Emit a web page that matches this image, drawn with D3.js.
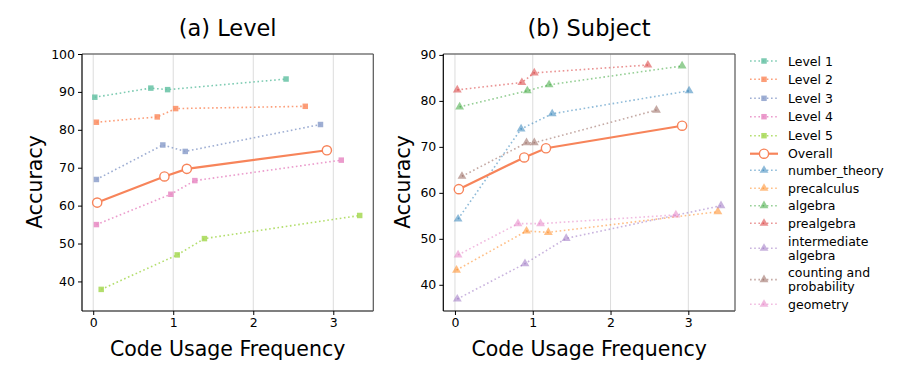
<!DOCTYPE html>
<html>
<head>
<meta charset="utf-8">
<script src="https://cdn.jsdelivr.net/npm/d3@7"></script>
<style>
  body { margin: 0; background: #fff; }
  text { font-family: "DejaVu Sans", sans-serif; }
</style>
</head>
<body>
<svg id="chart" width="913" height="371"></svg>
<script>
// data
const overallX = [0.05, 0.89, 1.17, 2.92];
const overallY = [60.8, 67.7, 69.7, 74.6];

const levelNames = ['Level 1', 'Level 2', 'Level 3', 'Level 4', 'Level 5'];
const levelX = [
  [0.02, 0.72, 0.93, 2.41],
  [0.04, 0.80, 1.03, 2.65],
  [0.04, 0.87, 1.15, 2.84],
  [0.04, 0.97, 1.27, 3.10],
  [0.10, 1.05, 1.39, 3.33]
];
const levelY = [
  [88.6, 91.0, 90.6, 93.4],
  [82.0, 83.4, 85.6, 86.2],
  [66.9, 76.0, 74.3, 81.4],
  [55.0, 63.0, 66.6, 72.0],
  [37.9, 47.0, 51.3, 57.4]
];
const levelColors = ['#66c2a5', '#fc8d62', '#8da0cb', '#e78ac3', '#a6d854'];

const subjectNames = ['number_theory', 'precalculus', 'algebra', 'prealgebra',
  'intermediate algebra', 'counting and probability', 'geometry'];
const subjectX = [
  [0.04, 0.85, 1.25, 3.01],
  [0.02, 0.92, 1.20, 3.38],
  [0.06, 0.93, 1.21, 2.92],
  [0.03, 0.86, 1.02, 2.48],
  [0.03, 0.90, 1.43, 3.42],
  [0.09, 0.92, 1.02, 2.59],
  [0.04, 0.81, 1.10, 2.84]
];
const subjectY = [
  [54.3, 73.9, 77.2, 82.2],
  [43.2, 51.7, 51.4, 55.9],
  [78.7, 82.2, 83.5, 87.6],
  [82.4, 84.0, 86.1, 87.8],
  [36.9, 44.6, 50.1, 57.2],
  [63.6, 70.9, 70.9, 78.0],
  [46.5, 53.3, 53.3, 55.2]
];
const subjectColors = ['#1f77b4', '#ff7f0e', '#2ca02c', '#d62728', '#9467bd', '#8c564b', '#e377c2'];

const xTicks = [0, 1, 2, 3];
const yTicksA = [40, 50, 60, 70, 80, 90, 100];
const yTicksB = [40, 50, 60, 70, 80, 90];
const overallColor = '#f7845a';

const svg = d3.select('#chart');

function panel(opts) {
  const x = d3.scaleLinear().domain(opts.xDomain).range([opts.left, opts.right]);
  const y = d3.scaleLinear().domain(opts.yDomain).range([311, 54]);
  const g = svg.append('g');

  // vertical grid
  g.selectAll('.grid').data(xTicks).enter().append('line')
    .attr('x1', d => x(d)).attr('x2', d => x(d))
    .attr('y1', 54).attr('y2', 311)
    .attr('stroke', '#dcdcdc').attr('stroke-width', 1);

  const xAxis = d3.axisBottom(x).tickValues(xTicks).tickFormat(d3.format('d')).tickSize(4).tickPadding(3);
  const yAxis = d3.axisLeft(y).tickValues(opts.yTicks).tickFormat(d3.format('d')).tickSize(4).tickPadding(3);
  const xg = g.append('g').attr('transform', 'translate(0,311)').call(xAxis);
  const yg = g.append('g').attr('transform', `translate(${opts.left},0)`).call(yAxis);
  [xg, yg].forEach(a => {
    a.select('.domain').remove();
    a.selectAll('text').style('font-size', '12.5px').attr('fill', '#000');
    a.selectAll('line').attr('stroke', '#000');
  });

  // frame
  g.append('line').attr('x1', opts.left).attr('x2', opts.right).attr('y1', 54).attr('y2', 54)
    .attr('stroke', '#777').attr('stroke-width', 1.6);
  g.append('line').attr('x1', opts.left).attr('x2', opts.right).attr('y1', 311).attr('y2', 311)
    .attr('stroke', '#000').attr('stroke-width', 1.2);
  g.append('line').attr('x1', opts.left).attr('x2', opts.left).attr('y1', 54).attr('y2', 311)
    .attr('stroke', '#000').attr('stroke-width', 1.2);
  g.append('line').attr('x1', opts.right).attr('x2', opts.right).attr('y1', 54).attr('y2', 311)
    .attr('stroke', '#555').attr('stroke-width', 1.2);

  const line = d3.line().x(d => x(d[0])).y(d => y(d[1]));

  opts.series.forEach((s, i) => {
    const pts = s.xs.map((v, j) => [v, s.ys[j]]);
    g.append('path').datum(pts).attr('d', line)
      .attr('fill', 'none').attr('stroke', s.color).attr('stroke-opacity', s.alpha)
      .attr('stroke-width', 1.6).attr('stroke-dasharray', '1.6,2.6');
    g.selectAll(null).data(pts).enter().append('path')
      .attr('transform', d => `translate(${x(d[0])},${y(d[1])})`)
      .attr('d', d3.symbol().type(s.symbol).size(s.symbol === d3.symbolSquare ? 30 : 34))
      .attr('fill', s.color).attr('fill-opacity', s.alpha);
  });

  const opts2 = overallX.map((v, j) => [v, overallY[j]]);
  g.append('path').datum(opts2).attr('d', line)
    .attr('fill', 'none').attr('stroke', overallColor).attr('stroke-width', 2.2);
  g.selectAll(null).data(opts2).enter().append('circle')
    .attr('cx', d => x(d[0])).attr('cy', d => y(d[1])).attr('r', 4.6)
    .attr('fill', '#fff').attr('stroke', overallColor).attr('stroke-width', 1.4);

  const cx = (opts.left + opts.right) / 2;
  svg.append('text').attr('x', cx).attr('y', 36).attr('text-anchor', 'middle')
    .style('font-size', '22.5px').text(opts.title);
  svg.append('text').attr('x', cx).attr('y', 356).attr('text-anchor', 'middle')
    .style('font-size', '20.5px').text('Code Usage Frequency');
  svg.append('text').attr('transform', `translate(${opts.labelX},182) rotate(-90)`)
    .attr('text-anchor', 'middle').style('font-size', '20.5px').text('Accuracy');
}

panel({
  left: 82, right: 373.3, xDomain: [-0.14, 3.5], yDomain: [32.2, 100], yTicks: yTicksA,
  title: '(a) Level', labelX: 42,
  series: levelNames.map((n, i) => ({ xs: levelX[i], ys: levelY[i], color: levelColors[i], alpha: 0.85, symbol: d3.symbolSquare }))
});

panel({
  left: 443.3, right: 735, xDomain: [-0.15, 3.6], yDomain: [34.3, 90.2], yTicks: yTicksB,
  title: '(b) Subject', labelX: 410,
  series: subjectNames.map((n, i) => ({ xs: subjectX[i], ys: subjectY[i], color: subjectColors[i], alpha: 0.5, symbol: d3.symbolTriangle }))
});

// legend
const legendItems = [];
levelNames.forEach((n, i) => legendItems.push({ lines: [n], color: levelColors[i], alpha: 0.85, kind: 'square' }));
legendItems.push({ lines: ['Overall'], color: overallColor, alpha: 1, kind: 'overall' });
const subjectLabelLines = [['number_theory'], ['precalculus'], ['algebra'], ['prealgebra'],
  ['intermediate', 'algebra'], ['counting and', 'probability'], ['geometry']];
subjectNames.forEach((n, i) => legendItems.push({ lines: subjectLabelLines[i], color: subjectColors[i], alpha: 0.5, kind: 'tri' }));

const rowY = [61, 79.3, 98.3, 116.7, 135.7, 153.7, 170.3, 188.3, 205.7, 223.3, 248.3, 279.6, 304.3];
const lg = svg.append('g');
legendItems.forEach((it, i) => {
  const cy = rowY[i];
  if (it.kind === 'overall') {
    lg.append('line').attr('x1', 750).attr('x2', 778).attr('y1', cy).attr('y2', cy)
      .attr('stroke', it.color).attr('stroke-width', 2.2);
    lg.append('circle').attr('cx', 764).attr('cy', cy).attr('r', 4.6)
      .attr('fill', '#fff').attr('stroke', it.color).attr('stroke-width', 1.4);
  } else {
    lg.append('line').attr('x1', 750).attr('x2', 778).attr('y1', cy).attr('y2', cy)
      .attr('stroke', it.color).attr('stroke-opacity', it.alpha)
      .attr('stroke-width', 1.6).attr('stroke-dasharray', '1.6,2.6');
    lg.append('path').attr('transform', `translate(764,${cy})`)
      .attr('d', d3.symbol().type(it.kind === 'square' ? d3.symbolSquare : d3.symbolTriangle).size(it.kind === 'square' ? 30 : 34))
      .attr('fill', it.color).attr('fill-opacity', it.alpha);
  }
  const t = lg.append('text').attr('x', 788).style('font-size', '12.5px');
  const n = it.lines.length;
  it.lines.forEach((l, k) => {
    t.append('tspan').attr('x', 788).attr('y', cy + 4.5 + (k - (n - 1) / 2) * 14.3).text(l);
  });
});
</script>
</body>
</html>
